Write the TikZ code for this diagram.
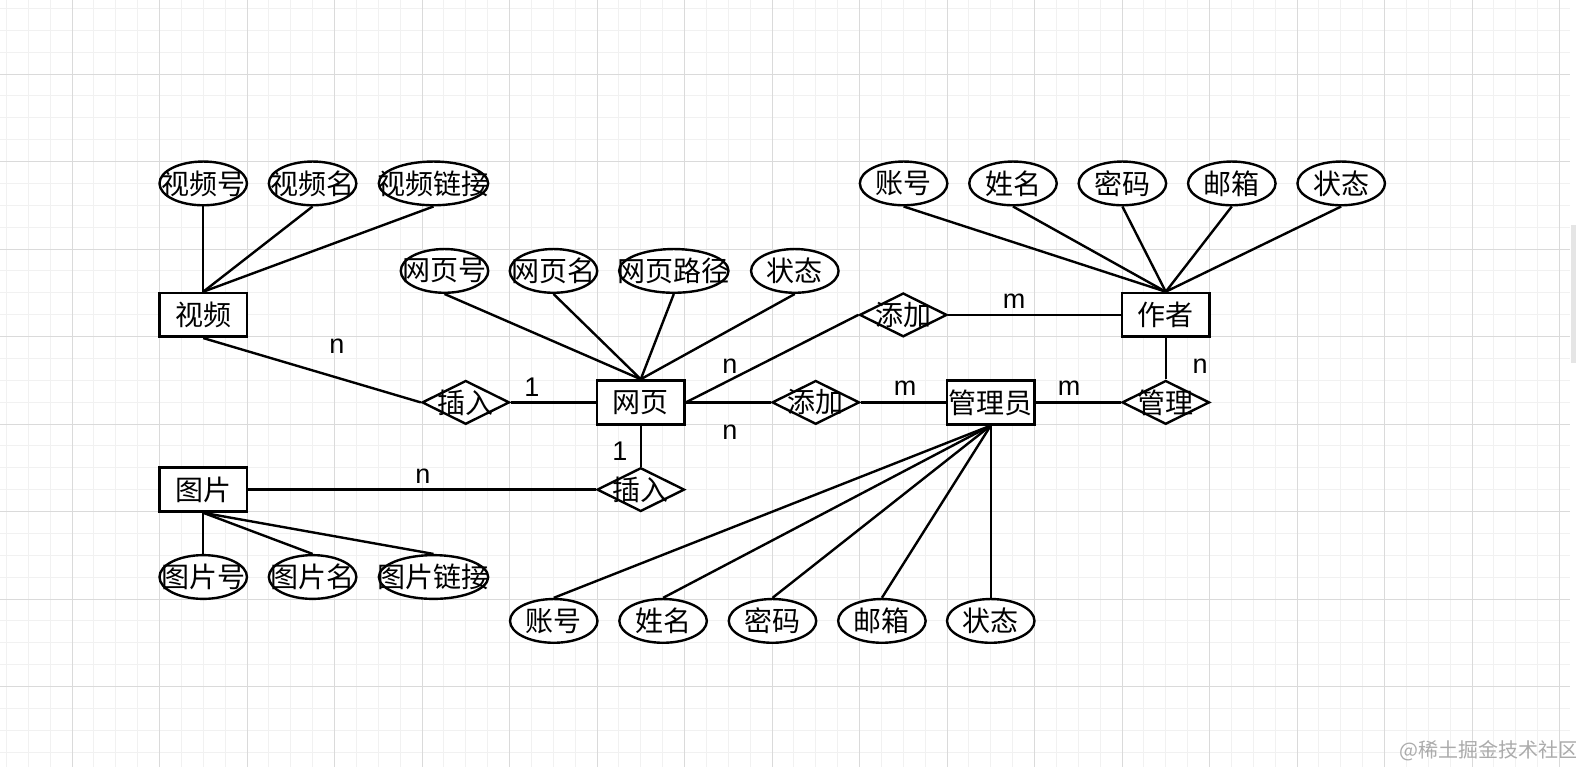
\documentclass[tikz,border=0pt]{standalone}
\usepackage{fontspec}
\setmainfont{Liberation Sans}
\newfontfamily\cjk{Noto Sans CJK SC}
\usetikzlibrary{shapes.geometric}
\definecolor{gmin}{HTML}{F1F1F1}
\definecolor{gmaj}{HTML}{DADADA}
\definecolor{wmark}{HTML}{ABABAB}
\tikzset{
  ent/.style={draw, rectangle, line width=1.3pt, fill=white, minimum width=43.75pt, minimum height=21.875pt, inner sep=0pt},
  rel/.style={draw, diamond, line width=1.2pt, fill=white, minimum width=43.75pt, minimum height=21.875pt, inner sep=0pt},
  attr/.style={draw, ellipse, line width=1.2pt, fill=white, minimum width=43.75pt, minimum height=21.875pt, inner sep=0pt},
  wide/.style={minimum width=54.7pt},
  txt/.style={font=\cjk\fontsize{14}{16}\selectfont, inner sep=0pt},
  card/.style={font=\fontsize{13.5}{15}\selectfont, inner sep=0pt},
  conn/.style={line width=1.2pt},
  minorline/.style={line width=0.5pt, gmin},
  majorline/.style={line width=0.5pt, gmaj},
}
\begin{document}
\begin{tikzpicture}[x=0.5pt,y=-0.5pt]
\useasboundingbox (0,0) rectangle (1576,767);
\fill[white] (0,0) rectangle (1576,767);
% grid
\foreach \k in {-3,...,68} \draw[minorline] ({72+21.875*\k},0) -- ({72+21.875*\k},767);
\foreach \k in {-3,...,31} \draw[minorline] (0,{74+21.875*\k}) -- (1570,{74+21.875*\k});
\foreach \k in {0,...,17} \draw[majorline] ({72+87.5*\k},0) -- ({72+87.5*\k},767);
\foreach \k in {0,...,7} \draw[majorline] (0,{74+87.5*\k}) -- (1570,{74+87.5*\k});
\fill[gmaj!70] (1571,225) rectangle (1576,363);

% entities
\node[ent, label={[txt]center:视频}] (vid) at (203.25,314.9) {};
\node[ent, label={[txt]center:网页}] (web) at (640.75,402.4) {};
\node[ent, label={[txt]center:图片}] (pic) at (203.25,489.6) {};
\node[ent, label={[txt]center:管理员}] (adm) at (990.75,402.4) {};
\node[ent, label={[txt]center:作者}] (aut) at (1165.75,314.9) {};

% relationships
\node[rel, label={[txt]center:插入}] (ins1) at (465.75,402.4) {};
\node[rel, label={[txt]center:添加}] (addm) at (815.75,402.4) {};
\node[rel, label={[txt]center:插入}] (ins2) at (640.75,489.6) {};
\node[rel, label={[txt]center:添加}] (addt) at (903.25,314.9) {};
\node[rel, label={[txt]center:管理}] (mgr) at (1165.75,402.4) {};

% attributes
\node[attr, label={[txt]center:视频号}] (v1) at (203.25,183.4) {};
\node[attr, label={[txt]center:视频名}] (v2) at (312.6,183.4) {};
\node[attr, wide, label={[txt]center:视频链接}] (v3) at (433.5,183.4) {};

\node[attr, label={[txt]center:网页号}] (w1) at (444.5,270.9) {};
\node[attr, label={[txt]center:网页名}] (w2) at (553.5,270.9) {};
\node[attr, wide, label={[txt]center:网页路径}] (w3) at (673.8,270.9) {};
\node[attr, label={[txt]center:状态}] (w4) at (794.8,270.9) {};

\node[attr, label={[txt]center:账号}] (a1) at (903.6,183.4) {};
\node[attr, label={[txt]center:姓名}] (a2) at (1013,183.4) {};
\node[attr, label={[txt]center:密码}] (a3) at (1122.4,183.4) {};
\node[attr, label={[txt]center:邮箱}] (a4) at (1231.8,183.4) {};
\node[attr, label={[txt]center:状态}] (a5) at (1341.2,183.4) {};

\node[attr, label={[txt]center:图片号}] (p1) at (203.25,577) {};
\node[attr, label={[txt]center:图片名}] (p2) at (312.6,577) {};
\node[attr, wide, label={[txt]center:图片链接}] (p3) at (433.5,577) {};

\node[attr, label={[txt]center:账号}] (m1) at (553.75,620.9) {};
\node[attr, label={[txt]center:姓名}] (m2) at (663.1,620.9) {};
\node[attr, label={[txt]center:密码}] (m3) at (772.5,620.9) {};
\node[attr, label={[txt]center:邮箱}] (m4) at (881.9,620.9) {};
\node[attr, label={[txt]center:状态}] (m5) at (990.75,620.9) {};

% attribute links
\foreach \e in {v1,v2,v3} \draw[conn] (vid.north) -- (\e.south);
\foreach \e in {w1,w2,w3,w4} \draw[conn] (web.north) -- (\e.south);
\foreach \e in {a1,a2,a3,a4,a5} \draw[conn] (aut.north) -- (\e.south);
\foreach \e in {p1,p2,p3} \draw[conn] (pic.south) -- (\e.north);
\foreach \e in {m1,m2,m3,m4,m5} \draw[conn] (adm.south) -- (\e.north);

% relationship links
\draw[conn] (vid.south) -- (ins1.west);
\draw[conn] (ins1.east) -- (web.west);
\draw[conn] (web.east) -- (addm.west);
\draw[conn] (addm.east) -- (adm.west);
\draw[conn] (adm.east) -- (mgr.west);
\draw[conn] (mgr.north) -- (aut.south);
\draw[conn] (web.east) -- (addt.west);
\draw[conn] (addt.east) -- (aut.west);
\draw[conn] (web.south) -- (ins2.north);
\draw[conn] (pic.east) -- (ins2.west);

% cardinalities
\node[card] (c1) at (337,346) {n};
\node[card] (c2) at (532,387) {1};
\node[card] (c3) at (730,366) {n};
\node[card] (c4) at (730,432) {n};
\node[card] (c5) at (620,451) {1};
\node[card] (c6) at (423,476) {n};
\node[card] (c7) at (1014,301) {m};
\node[card] (c8) at (905,388) {m};
\node[card] (c9) at (1069,388) {m};
\node[card] (c10) at (1200,366) {n};

\node[font=\cjk\fontsize{10}{11}\selectfont, text=wmark, inner sep=0pt] (wm) at (1489,751) {@稀土掘金技术社区};
\end{tikzpicture}
\end{document}
